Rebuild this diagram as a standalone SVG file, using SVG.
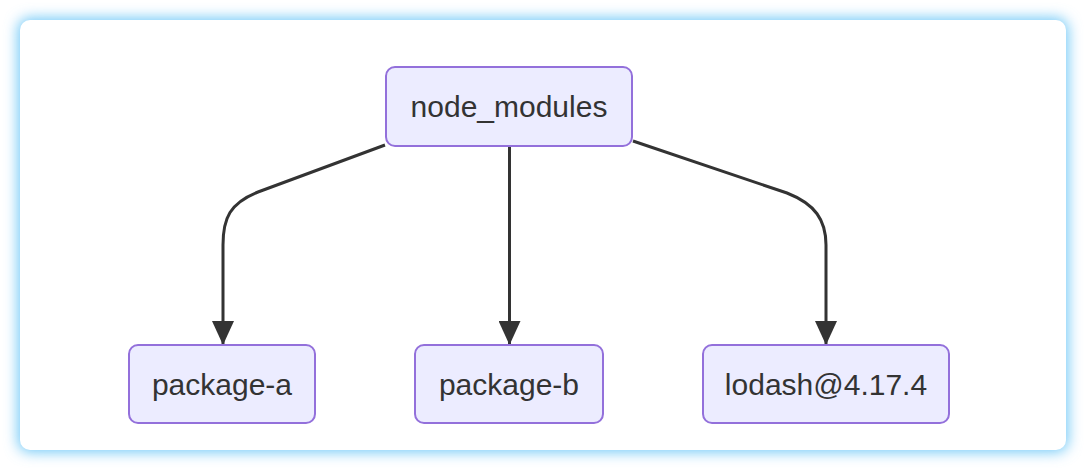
<svg xmlns="http://www.w3.org/2000/svg" width="1086" height="470" viewBox="0 0 1086 470">
  <defs>
    <filter id="glow" x="-10%" y="-20%" width="120%" height="140%">
      <feGaussianBlur stdDeviation="7"/>
    </filter>
    <marker id="arrow" viewBox="0 0 24 22" refX="24" refY="11" markerWidth="24" markerHeight="22" markerUnits="userSpaceOnUse" orient="auto">
      <path d="M0,0 L24,11 L0,22 Z" fill="#333333"/>
    </marker>
    <style>
      .node rect { fill: #ECECFF; stroke: #9370DB; stroke-width: 2; }
      .node text { font-family: "Liberation Sans", Arial, sans-serif; font-size: 30px; fill: #333333; text-anchor: middle; }
      .edge { fill: none; stroke: #333333; stroke-width: 3; }
    </style>
  </defs>
  <rect x="0" y="0" width="1086" height="470" fill="#ffffff"/>
  <rect x="18" y="18" width="1050" height="434" rx="12" fill="#6fc8f7" filter="url(#glow)"/>
  <rect x="20" y="20" width="1046" height="430" rx="10" fill="#ffffff"/>

  <g id="connectors">
    <path class="edge" d="M385,145 L258,192 C230,203 223,218 223,245 L223,345" marker-end="url(#arrow)"/>
    <path class="edge" d="M509.5,146 L509.5,345" marker-end="url(#arrow)"/>
    <path class="edge" d="M633,141 L787,193 C815,204 826,220 826,245 L826,345" marker-end="url(#arrow)"/>
  </g>

  <g id="node_modules" class="node">
    <rect x="386" y="67" width="246" height="79" rx="9"/>
    <text x="509" y="117">node_modules</text>
  </g>
  <g id="package-a" class="node">
    <rect x="129" y="345" width="186" height="78" rx="9"/>
    <text x="222" y="395">package-a</text>
  </g>
  <g id="package-b" class="node">
    <rect x="415" y="345" width="188" height="78" rx="9"/>
    <text x="509" y="395">package-b</text>
  </g>
  <g id="lodash" class="node">
    <rect x="703" y="345" width="246" height="78" rx="9"/>
    <text x="826" y="395">lodash@4.17.4</text>
  </g>
</svg>
